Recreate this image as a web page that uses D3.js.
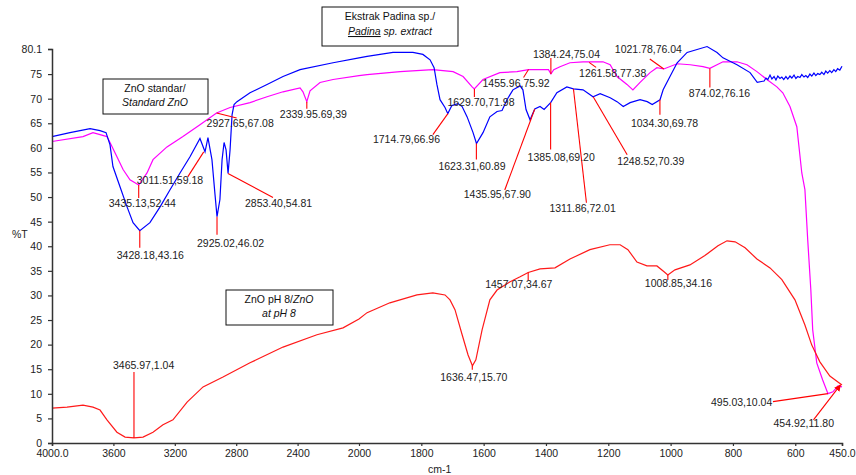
<!DOCTYPE html>
<html><head><meta charset="utf-8">
<script src="https://cdn.jsdelivr.net/npm/d3@7"></script>
<style>
body{margin:0;background:#fff;}
svg{display:block;font-family:"Liberation Sans",Arial,sans-serif;}
</style></head>
<body><svg id="c" width="856" height="475"></svg>
<script>
// ---------- data ----------
const xTicks = [4000,3600,3200,2800,2400,2000,1800,1600,1400,1200,1000,800,600,450];
const yTicks = [0,5,10,15,20,25,30,35,40,45,50,55,60,65,70,75,80.1];

const blueWn = [4000,3883,3752,3687,3648,3622,3603,3557,3511,3472,3428,3362,3296,3231,3166,3101,3036,3003,2984,2958,2938,2925,2906,2892,2879,2866,2853,2840,2827,2814,2795,2710,2599,2495,2384,2169,2000,1974,1891,1827,1795,1772,1759,1750,1740,1724,1715,1702,1682,1669,1653,1634,1623,1602,1580,1557,1541,1525,1506,1483,1474,1464,1451,1436,1419,1406,1385,1365,1333,1312,1281,1249,1226,1194,1172,1152,1130,1098,1075,1059,1034,1024,1002,979,947,915,883,851,832,787,745,722,700,694,688,681,675,668,662,656,649,643,637,630,624,617,611,604,598,592,585,579,572,566,560,553,547,540,534,528,521,515,508,502,496,489,483,476,470,464,457,450];
const blueT  = [62.3,63.1,63.9,63.5,63.1,60.6,56.2,52.1,48.0,44.8,43.16,44.8,48.0,51.5,54.9,58.2,61.9,59.2,62.1,57.6,50.5,46.02,49.5,57.6,61.1,59.6,54.81,59.6,66.7,68.8,69.4,71.2,72.9,74.5,75.9,77.3,78.3,78.6,79.4,79.4,79.0,77.9,76.3,72.9,69.8,68.2,66.96,68.6,69.0,68.4,66.3,63.1,60.89,63.1,66.3,67.4,67.6,69.8,71.8,72.6,71.8,67.8,65.7,67.9,68.4,67.8,69.2,71.2,72.4,72.01,71.8,70.39,71.0,70.2,69.4,68.4,69.2,69.8,69.4,68.8,69.78,71.8,74.5,77.3,79.4,80.0,80.6,79.4,78.3,76.9,75.3,73.3,73.6,74.2,73.9,74.8,74.0,74.5,73.8,74.6,74.1,74.4,73.9,74.5,74.0,74.6,74.2,74.8,74.1,74.5,74.3,74.9,74.4,74.7,74.3,75.0,74.6,75.2,74.7,75.1,74.9,75.4,74.9,75.6,75.2,75.7,75.3,75.9,75.5,76.1,75.8,76.6];

const magWn = [4000,3798,3733,3687,3642,3622,3577,3537,3492,3435,3381,3342,3251,3147,3036,2928,2840,2710,2599,2495,2384,2365,2340,2319,2254,2169,2000,1974,1868,1763,1698,1666,1637,1630,1602,1548,1493,1456,1392,1384,1375,1355,1323,1281,1217,1194,1172,1140,1121,1098,1066,1044,1022,979,937,896,874,832,787,755,723,691,659,640,617,595,579,569,560,550,544,531,512,495,479,463,450];
const magT  = [61.3,62.3,63.1,62.7,62.3,61.1,58.2,55.6,53.5,52.44,54.9,57.6,60.2,62.3,64.7,67.08,68.2,69.2,70.4,71.4,72.2,71.4,69.39,71.6,73.3,73.9,74.7,74.9,75.5,75.9,75.5,74.5,72.4,71.98,73.9,75.3,75.5,75.92,75.9,75.04,75.9,76.5,77.3,77.5,77.5,76.9,74.5,72.9,71.8,73.3,75.3,76.3,76.04,77.1,76.9,76.5,76.16,77.5,77.5,76.9,75.5,73.9,72.4,71.2,68.4,64.3,54.9,51.5,41.3,31.1,23.0,16.3,12.8,10.04,10.4,11.6,11.4];

const redWn = [4000,3902,3798,3733,3687,3642,3577,3524,3466,3407,3342,3277,3212,3120,3016,2886,2710,2495,2274,2104,2000,1974,1901,1814,1763,1724,1708,1692,1669,1650,1636,1625,1605,1580,1557,1515,1483,1457,1419,1371,1323,1259,1195,1162,1137,1108,1076,1044,1021,1009,986,938,890,848,819,793,761,723,681,643,601,569,547,521,489,450];
const redT  = [7.1,7.3,7.7,7.3,6.7,4.7,2.2,1.2,1.04,1.2,2.2,3.7,4.7,8.3,11.4,13.4,16.3,19.5,22.0,23.4,25.2,26.5,28.5,30.1,30.5,30.1,29.1,27.1,22.0,17.9,15.7,16.9,23.0,29.1,31.1,32.8,33.8,34.67,35.4,35.6,37.4,39.3,40.3,40.3,39.3,36.8,36.0,36.0,34.8,34.16,35.2,36.2,38.1,40.1,41.1,40.9,39.7,37.4,35.6,33.2,29.1,24.0,19.9,16.5,13.6,11.8];

const annText = ["3011.51,59.18","3435.13,52.44","3428.18,43.16","2925.02,46.02","2853.40,54.81","2927.65,67.08","2339.95.69,39","1714.79,66.96","1629.70,71.98","1623.31,60.89","1455.96,75.92","1384.24,75.04","1261.58,77.38","1021.78,76.04","874.02,76.16","1034.30,69.78","1248.52,70.39","1311.86,72.01","1385.08,69.20","1435.95,67.90","1457.07,34.67","1008.85,34.16","1636.47,15.70","3465.97,1.04","495.03,10.04","454.92,11.80"];
const annWn = [3011.51,3435.13,3428.18,2925.02,2853.40,2927.65,2339.95,1714.79,1629.70,1623.31,1455.96,1384.24,1261.58,1021.78,874.02,1034.30,1248.52,1311.86,1385.08,1435.95,1457.07,1008.85,1636.47,3465.97,495.03,454.92];
const annT = [59.18,52.44,43.16,46.02,54.81,67.08,69.39,66.96,71.98,60.89,75.92,75.04,77.38,76.04,76.16,69.78,70.39,72.01,69.20,67.90,34.67,34.16,15.70,1.04,10.04,11.80];

// layout (pixel offsets from each annotated point): line end dx,dy ; text left dx, baseline dy
const annLayout = [[-16,25,-67,32],[0,13,-30,22],[0,17,-23,28],[0,18,-20,30],[45,24,17,34],[20,5,-10,14],[0,7,-27,16],[-15,21,-75,29],[0,8,-27,17],[0,16,-38,27],[-5,8,-46,17],[0,-16,-18,-16],[7,5,-10,15],[-14,-10,-49,-16],[0,19,-21,29],[0,15,-29,27],[34,58,24,68],[13,114,-24,123],[0,47,-23,58],[-30,81,-71,89],[0,8,-43,16],[0,5,-23,12],[0,4,-32,15],[0,-66,-21,-69],[-55,8,-117,12],[-27,35,-67,42]];

// ---------- chart ----------
const svg = d3.select("#c");
const x = d3.scaleLinear().domain([4000,2000,450]).range([52,359,842]);
const y = d3.scaleLinear().domain([0,80.1]).range([443,49]);
const FS = "10.5px";

const line = d3.line().x(d=>x(d[0])).y(d=>y(d[1]));
function series(wn,t){return wn.map((w,i)=>[w,t[i]]);}

svg.append("path").datum(series(magWn,magT)).attr("d",line).attr("fill","none").attr("stroke","#ff00ff").attr("stroke-width",1.2);
svg.append("path").datum(series(blueWn,blueT)).attr("d",line).attr("fill","none").attr("stroke","#0000ff").attr("stroke-width",1.2);
svg.append("path").datum(series(redWn,redT)).attr("d",line).attr("fill","none").attr("stroke","#ff1a1a").attr("stroke-width",1.2);

// axes
const xAxis = d3.axisBottom(x).tickValues(xTicks).tickSize(3).tickPadding(4)
  .tickFormat(d=> (d===4000||d===450)? d.toFixed(1) : String(d));
const gx = svg.append("g").attr("transform","translate(0,443)").call(xAxis);
const yAxis = d3.axisLeft(y).tickValues(yTicks).tickSize(4).tickPadding(6)
  .tickFormat(d=> d===80.1 ? "80.1" : String(d));
const gy = svg.append("g").attr("transform","translate(52,0)").call(yAxis);
[gx,gy].forEach(g=>{
  g.select(".domain").attr("stroke","#333").attr("stroke-width",1.5);
  g.selectAll(".tick line").attr("stroke","#333").attr("stroke-width",1.2);
  g.selectAll(".tick text").attr("fill","#222").style("font-size",FS).style("font-family","Liberation Sans, Arial, sans-serif");
});

svg.append("text").attr("x",12).attr("y",238).text("%T").style("font-size",FS).attr("fill","#222");
svg.append("text").attr("x",428).attr("y",473).text("cm-1").style("font-size",FS).attr("fill","#222");

// arrow marker
svg.append("defs").append("marker").attr("id","arr").attr("viewBox","0 0 10 10").attr("refX",9).attr("refY",5)
  .attr("markerWidth",6).attr("markerHeight",6).attr("orient","auto")
  .append("path").attr("d","M0,0L10,5L0,10z").attr("fill","#ff0000");

// annotations
const ann = svg.append("g");
annText.forEach((t,i)=>{
  const px = x(annWn[i]), py = y(annT[i]);
  const L = annLayout[i];
  const ln = ann.append("line").attr("x1",px+L[0]).attr("y1",py+L[1]).attr("x2",px).attr("y2",py)
    .attr("stroke","#ff0000").attr("stroke-width",1.1);
  if(i===annText.length-1) ln.attr("marker-end","url(#arr)");
  ann.append("text").attr("x",px+L[2]).attr("y",py+L[3]).text(t).style("font-size",FS).attr("fill","#222");
});

// legend boxes
function box(x0,y0,w,h){
  svg.append("rect").attr("x",x0).attr("y",y0).attr("width",w).attr("height",h).attr("fill","#fff").attr("stroke","#111").attr("stroke-width",1);
}
box(322,7,136,39);
svg.append("text").attr("x",390).attr("y",20).attr("text-anchor","middle").style("font-size",FS).attr("fill","#111").text("Ekstrak Padina sp./");
const t2 = svg.append("text").attr("x",390).attr("y",35).attr("text-anchor","middle").style("font-size",FS).attr("fill","#111").style("font-style","italic");
t2.append("tspan").style("text-decoration","underline").text("Padina");
t2.append("tspan").text(" sp. extract");

box(103,79,105,35);
svg.append("text").attr("x",155).attr("y",92).attr("text-anchor","middle").style("font-size",FS).attr("fill","#111").text("ZnO standar/");
svg.append("text").attr("x",155).attr("y",106).attr("text-anchor","middle").style("font-size",FS).attr("fill","#111").style("font-style","italic").text("Standard ZnO");

box(226,290,107,35);
const t3 = svg.append("text").attr("x",279).attr("y",303).attr("text-anchor","middle").style("font-size",FS).attr("fill","#111");
t3.append("tspan").text("ZnO pH 8/");
t3.append("tspan").style("font-style","italic").text("ZnO");
svg.append("text").attr("x",279).attr("y",317).attr("text-anchor","middle").style("font-size",FS).attr("fill","#111").style("font-style","italic").text("at pH 8");
</script></body></html>
